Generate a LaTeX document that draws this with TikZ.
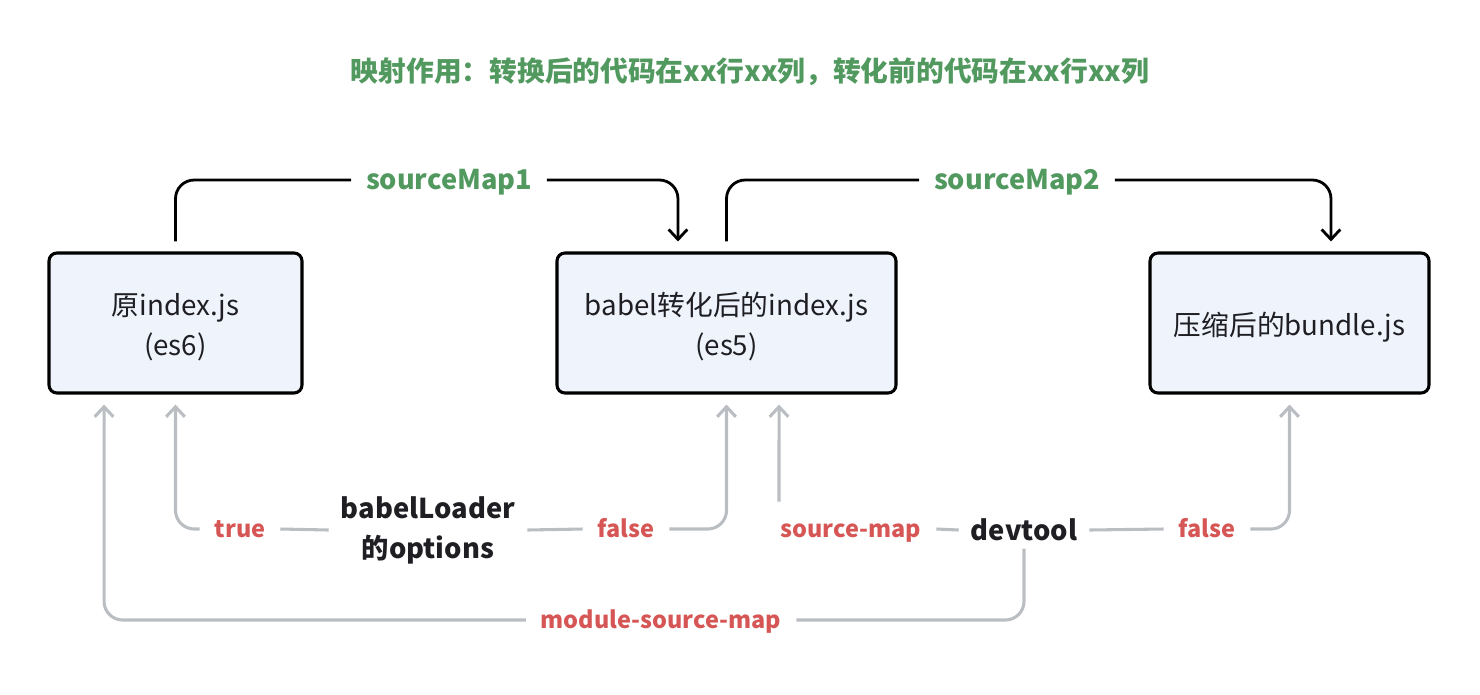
\documentclass[tikz,border=0pt]{standalone}
\usepackage{fontspec}
\setmainfont{Noto Sans CJK SC}
\usetikzlibrary{arrows.meta,calc}
\definecolor{grn}{RGB}{82,153,96}
\definecolor{rd}{RGB}{214,86,86}
\definecolor{gry}{RGB}{186,189,194}
\definecolor{boxfill}{RGB}{239,243,252}
\definecolor{txt}{RGB}{30,30,35}
\tikzset{
  box/.style={draw=black, line width=2.3pt, fill=boxfill, rounded corners=6pt,
    minimum height=105pt},
  boxtext/.style={align=center, font=\fontsize{20.8}{30}\selectfont, text=txt, yshift=-3pt},
  blk/.style={draw=black, line width=2.1pt, rounded corners=14pt},
  blkarr/.style={blk, -{Straight Barb[length=7.5pt,width=14pt,line width=2.1pt]}},
  gr/.style={draw=gry, line width=2.3pt, rounded corners=14pt},
  grarr/.style={gr, -{Straight Barb[length=7.5pt,width=14pt,line width=2.3pt]}},
  glab/.style={font=\bfseries\fontsize{20.4}{24}\selectfont, text=grn, inner xsep=11pt,
    text height=18pt, text depth=4pt},
  rlab/.style={font=\bfseries\fontsize{17.6}{22}\selectfont, text=rd, inner xsep=11pt,
    text height=17pt, text depth=4pt},
  klab/.style={font=\bfseries\fontsize{20.5}{30}\selectfont, text=txt, align=center, inner xsep=9pt},
}
\begin{document}
\begin{tikzpicture}[x=0.75pt,y=-0.75pt]
\useasboundingbox (0,0) rectangle (1480,694);
\node[font=\bfseries\fontsize{20.8}{24}\selectfont, text=grn] (title) at (750,72)
  {映射作用：转换后的代码在xx行xx列，转化前的代码在xx行xx列};

\node[box, minimum width=189.75pt, label={[boxtext]center:原index.js\\(es6)}] (A) at (175.5,323) {};
\node[box, minimum width=254.25pt, label={[boxtext]center:babel转化后的index.js\\(es5)}] (B) at (726.5,323) {};
\node[box, minimum width=209.25pt, label={[boxtext]center:压缩后的bundle.js}] (C) at (1289.5,323) {};

% top connectors
\node[glab] (s1) at (449,180) {sourceMap1};
\node[glab] (s2) at (1017,180) {sourceMap2};
\draw[blk] ([yshift=7.5pt]A.north) |- (s1.west);
\draw[blkarr] (s1.east) -| ([xshift=-36.4pt,yshift=7.5pt]B.north);
\draw[blk] ([yshift=7.5pt]B.north) |- (s2.west);
\draw[blkarr] (s2.east) -| ([xshift=31.1pt,yshift=7.5pt]C.north);

% bottom
\node[klab] (BL) at (428,530) {babelLoader\\的options};
\node[klab] (DT) at (1024,530) {devtool};
\node[rlab] (tr) at (240,529) {true};
\node[rlab] (f1) at (626,529) {false};
\node[rlab] (sm) at (851,529) {source-map};
\node[rlab] (f2) at (1207,529) {false};
\node[rlab] (msm) at (661,620) {module-source-map};

\coordinate (smc) at ($(B.south)+(52.5,107)$);
\draw[gr] (BL.west) -- (tr.east);
\draw[grarr] (tr.west) -| ([yshift=-7.5pt]A.south);
\draw[gr] (BL.east) -- (f1.west);
\draw[grarr] (f1.east) -| ([yshift=-7.5pt]B.south);
\draw[gr] (DT.west) -- (sm.east);
\draw[grarr] (smc) -- ([xshift=39.4pt,yshift=-7.5pt]B.south);
\draw[gr] (DT.east) -- (f2.west);
\draw[grarr] (f2.east) -| ([yshift=-7.5pt]C.south);
\draw[gr] ([yshift=-2pt]DT.south) |- (msm.east);
\draw[grarr] (msm.west) -| ([xshift=-53.6pt,yshift=-7.5pt]A.south);
\end{tikzpicture}
\end{document}
